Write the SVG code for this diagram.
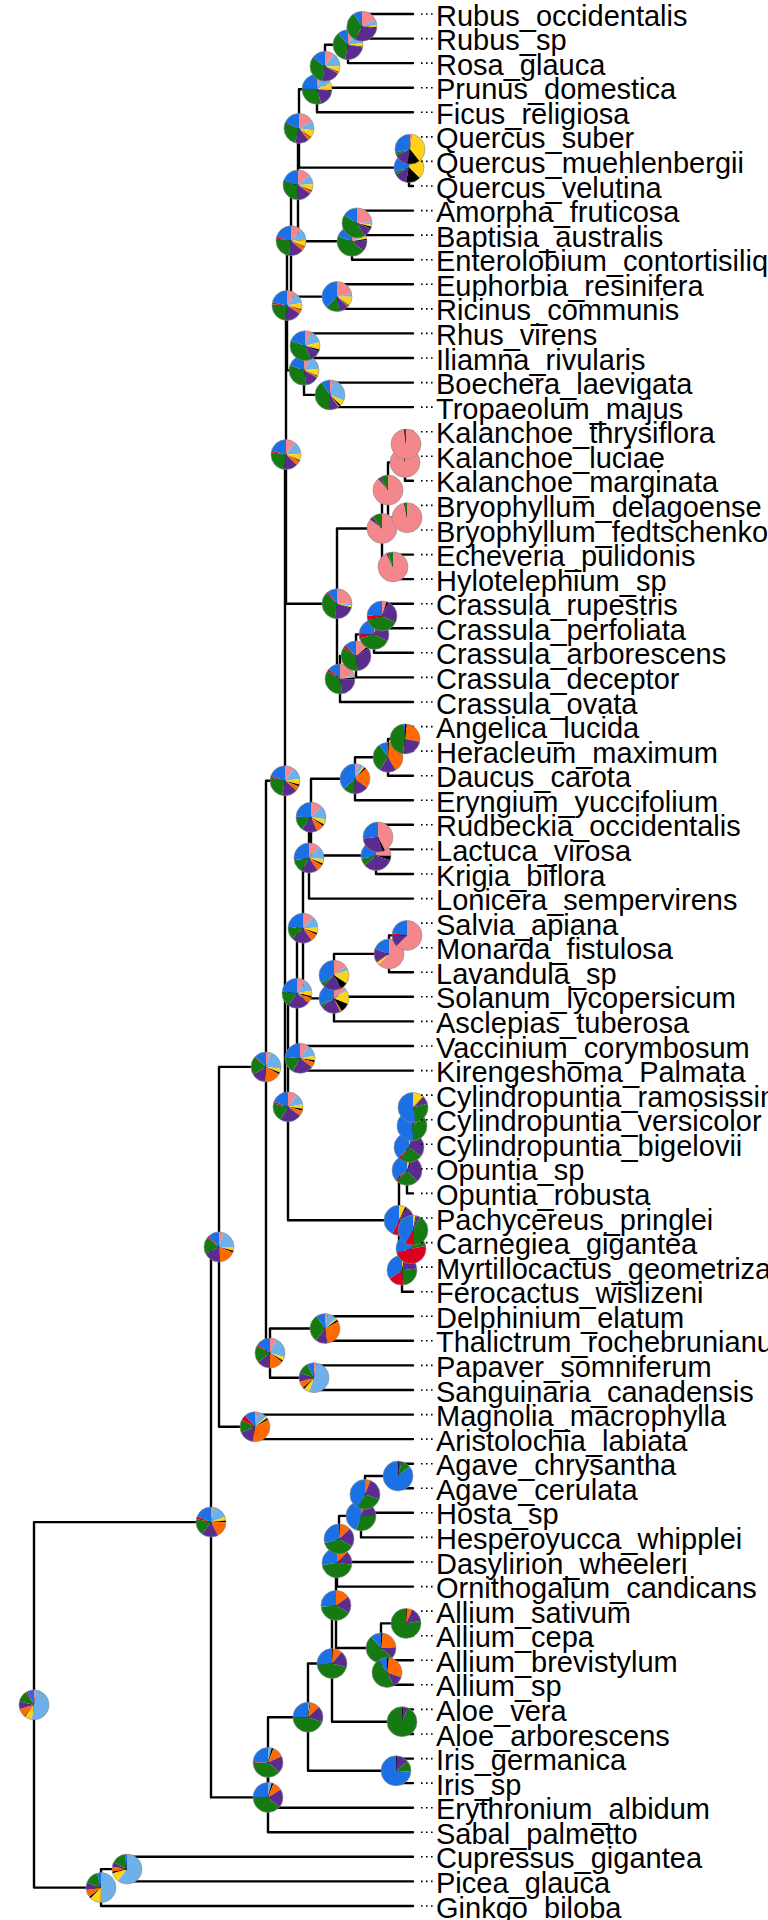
<svg xmlns="http://www.w3.org/2000/svg" width="768" height="1920" viewBox="0 0 768 1920">
<style>
.e path{fill:none;stroke:#000;stroke-width:2.4;stroke-linecap:round}
.pie circle{fill:none;r:15.9155px;stroke-width:31.831px}
.pie .o{r:31.831px;stroke:#8a8a8a;stroke-width:1.3px}
.P{stroke:#f4878c}.L{stroke:#6eb1ea}.Y{stroke:#ffd21a}.K{stroke:#000}.O{stroke:#ff6900}.U{stroke:#5b2b8f}.G{stroke:#157a12}.R{stroke:#dc0020}.B{stroke:#1b70e6}
.t text{font-family:"Liberation Sans",Arial,Helvetica,sans-serif;font-size:29px;fill:#000}
.t path{stroke:#000;stroke-width:1.6;stroke-dasharray:1.6 3.4;fill:none}
</style>
<rect width="768" height="1920" fill="#fff"/>
<g id="edges" class="e">
<path d="M362 14V38.6M362 14H413M362 38.6H413"/>
<path d="M348 26.3V63.1M348 26.3H362M348 63.1H413"/>
<path d="M325 44.7V87.7M325 44.7H348M325 87.7H413"/>
<path d="M317 66.2V112.3M317 66.2H325M317 112.3H413"/>
<path d="M410 136.9V161.4M410 136.9H413M410 161.4H413"/>
<path d="M409 149.2V186M409 149.2H410M409 186H413"/>
<path d="M299 89.3V167.6M299 89.3H317M299 167.6H409"/>
<path d="M357 210.6V235.1M357 210.6H413M357 235.1H413"/>
<path d="M352 222.9V259.7M352 222.9H357M352 259.7H413"/>
<path d="M298 128.4V241.3M298 128.4H299M298 241.3H352"/>
<path d="M337 284.3V308.9M337 284.3H413M337 308.9H413"/>
<path d="M291 184.9V296.6M291 184.9H298M291 296.6H337"/>
<path d="M305 333.4V358M305 333.4H413M305 358H413"/>
<path d="M330 382.6V407.1M330 382.6H413M330 407.1H413"/>
<path d="M304 345.7V394.9M304 345.7H305M304 394.9H330"/>
<path d="M287 240.7V370.3M287 240.7H291M287 370.3H304"/>
<path d="M406 431.7V456.3M406 431.7H413M406 456.3H413"/>
<path d="M405 444V480.8M405 444H406M405 480.8H413"/>
<path d="M407 505.4V530M407 505.4H413M407 530H413"/>
<path d="M388 462.4V517.7M388 462.4H405M388 517.7H407"/>
<path d="M393 554.6V579.1M393 554.6H413M393 579.1H413"/>
<path d="M382 490.1V566.9M382 490.1H388M382 566.9H393"/>
<path d="M382 603.7V628.3M382 603.7H413M382 628.3H413"/>
<path d="M374 616V652.8M374 616H382M374 652.8H413"/>
<path d="M356 634.4V677.4M356 634.4H374M356 677.4H413"/>
<path d="M340 655.9V702M340 655.9H356M340 702H413"/>
<path d="M337 528.5V679M337 528.5H382M337 679H340"/>
<path d="M286 305.5V603.7M286 305.5H287M286 603.7H337"/>
<path d="M405 726.6V751.1M405 726.6H413M405 751.1H413"/>
<path d="M388 738.9V775.7M388 738.9H405M388 775.7H413"/>
<path d="M355 757.3V800.3M355 757.3H388M355 800.3H413"/>
<path d="M378 824.8V849.4M378 824.8H413M378 849.4H413"/>
<path d="M376 837.1V874M376 837.1H378M376 874H413"/>
<path d="M311 778.8V855.5M311 778.8H355M311 855.5H376"/>
<path d="M309 817.2V898.6M309 817.2H311M309 898.6H413"/>
<path d="M407 923.1V947.7M407 923.1H413M407 947.7H413"/>
<path d="M389 935.4V972.3M389 935.4H407M389 972.3H413"/>
<path d="M334 953.9V996.8M334 953.9H389M334 996.8H413"/>
<path d="M334 975.3V1021.4M334 1021.4H413"/>
<path d="M303 857.9V998.4M303 857.9H309M303 998.4H334"/>
<path d="M300 1046V1070.6M300 1046H413M300 1070.6H413"/>
<path d="M297 928.2V1058.3M297 928.2H303M297 1058.3H300"/>
<path d="M413 1095.1V1119.7"/>
<path d="M412 1107.4V1144.3M412 1107.4H413M412 1144.3H413"/>
<path d="M409 1125.9V1168.8M409 1125.9H412M409 1168.8H413"/>
<path d="M407 1147.3V1193.4M407 1147.3H409M407 1193.4H413"/>
<path d="M413 1218V1242.6"/>
<path d="M411 1230.3V1267.1M411 1230.3H413M411 1267.1H413"/>
<path d="M402 1248.7V1291.7M402 1248.7H411M402 1291.7H413"/>
<path d="M399 1170.4V1270.2M399 1170.4H407M399 1270.2H402"/>
<path d="M288 993.2V1220.3M288 993.2H297M288 1220.3H399"/>
<path d="M285 454.6V1106.8M285 454.6H286M285 1106.8H288"/>
<path d="M325 1316.3V1340.8M325 1316.3H413M325 1340.8H413"/>
<path d="M314 1365.4V1390M314 1365.4H413M314 1390H413"/>
<path d="M270 1328.5V1377.7M270 1328.5H325M270 1377.7H314"/>
<path d="M266 780.7V1353.1M266 780.7H285M266 1353.1H270"/>
<path d="M255 1414.6V1439.1M255 1414.6H413M255 1439.1H413"/>
<path d="M219 1066.9V1426.8M219 1066.9H266M219 1426.8H255"/>
<path d="M398 1463.7V1488.3M398 1463.7H413M398 1488.3H413"/>
<path d="M365 1476V1512.8M365 1476H398M365 1512.8H413"/>
<path d="M361 1494.4V1537.4M361 1494.4H365M361 1537.4H413"/>
<path d="M339 1515.9V1562M339 1515.9H361M339 1562H413"/>
<path d="M337 1539V1586.6M337 1539H339M337 1586.6H413"/>
<path d="M406 1611.1V1635.7M406 1611.1H413M406 1635.7H413"/>
<path d="M387 1660.3V1684.8M387 1660.3H413M387 1684.8H413"/>
<path d="M381 1623.4V1672.5M381 1623.4H406M381 1672.5H387"/>
<path d="M336 1562.8V1648M336 1562.8H337M336 1648H381"/>
<path d="M402 1709.4V1734M402 1709.4H413M402 1734H413"/>
<path d="M332 1605.4V1721.7M332 1605.4H336M332 1721.7H402"/>
<path d="M396 1758.6V1783.1M396 1758.6H413M396 1783.1H413"/>
<path d="M308 1663.5V1770.8M308 1663.5H332M308 1770.8H396"/>
<path d="M268 1717.2V1807.7M268 1717.2H308M268 1807.7H413"/>
<path d="M268 1762.4V1832.3M268 1832.3H413"/>
<path d="M211 1246.9V1797.4M211 1246.9H219M211 1797.4H268"/>
<path d="M127 1856.8V1881.4M127 1856.8H413M127 1881.4H413"/>
<path d="M101 1869.1V1906M101 1869.1H127M101 1906H413"/>
<path d="M34 1522.1V1887.6M34 1522.1H211M34 1887.6H101"/>
</g>
<g id="pies">
<g id="n_root" class="pie" transform="translate(34 1704.8) rotate(-90) scale(.4712)"><circle class="P" stroke-dasharray="2 100"/><circle class="L" stroke-dasharray="50 100" stroke-dashoffset="-2"/><circle class="Y" stroke-dasharray="8 100" stroke-dashoffset="-52"/><circle class="K" stroke-dasharray="1 100" stroke-dashoffset="-60"/><circle class="O" stroke-dasharray="9 100" stroke-dashoffset="-61"/><circle class="U" stroke-dasharray="8 100" stroke-dashoffset="-70"/><circle class="G" stroke-dasharray="12 100" stroke-dashoffset="-78"/><circle class="R" stroke-dasharray="2 100" stroke-dashoffset="-90"/><circle class="B" stroke-dasharray="8 100" stroke-dashoffset="-92"/><circle class="o"/></g>
<g id="n_m" class="pie" transform="translate(211 1522.1) rotate(-90) scale(.4712)"><circle class="P" stroke-dasharray="3 100"/><circle class="L" stroke-dasharray="16 100" stroke-dashoffset="-3"/><circle class="Y" stroke-dasharray="4 100" stroke-dashoffset="-19"/><circle class="K" stroke-dasharray="2 100" stroke-dashoffset="-23"/><circle class="O" stroke-dasharray="17 100" stroke-dashoffset="-25"/><circle class="U" stroke-dasharray="18 100" stroke-dashoffset="-42"/><circle class="G" stroke-dasharray="18 100" stroke-dashoffset="-60"/><circle class="R" stroke-dasharray="3 100" stroke-dashoffset="-78"/><circle class="B" stroke-dasharray="19 100" stroke-dashoffset="-81"/><circle class="o"/></g>
<g id="n_n" class="pie" transform="translate(219 1246.9) rotate(-90) scale(.4712)"><circle class="P" stroke-dasharray="5 100"/><circle class="L" stroke-dasharray="20 100" stroke-dashoffset="-5"/><circle class="Y" stroke-dasharray="4 100" stroke-dashoffset="-25"/><circle class="K" stroke-dasharray="2 100" stroke-dashoffset="-29"/><circle class="O" stroke-dasharray="18 100" stroke-dashoffset="-31"/><circle class="U" stroke-dasharray="18 100" stroke-dashoffset="-49"/><circle class="G" stroke-dasharray="18 100" stroke-dashoffset="-67"/><circle class="R" stroke-dasharray="2 100" stroke-dashoffset="-85"/><circle class="B" stroke-dasharray="13 100" stroke-dashoffset="-87"/><circle class="o"/></g>
<g id="n_l" class="pie" transform="translate(266 1066.9) rotate(-90) scale(.4712)"><circle class="P" stroke-dasharray="5 100"/><circle class="L" stroke-dasharray="22 100" stroke-dashoffset="-5"/><circle class="Y" stroke-dasharray="4 100" stroke-dashoffset="-27"/><circle class="K" stroke-dasharray="2 100" stroke-dashoffset="-31"/><circle class="O" stroke-dasharray="18 100" stroke-dashoffset="-33"/><circle class="U" stroke-dasharray="15 100" stroke-dashoffset="-51"/><circle class="G" stroke-dasharray="20 100" stroke-dashoffset="-66"/><circle class="R" stroke-dasharray="1 100" stroke-dashoffset="-86"/><circle class="B" stroke-dasharray="13 100" stroke-dashoffset="-87"/><circle class="o"/></g>
<g id="n_j" class="pie" transform="translate(285 780.7) rotate(-90) scale(.4712)"><circle class="P" stroke-dasharray="10 100"/><circle class="L" stroke-dasharray="13 100" stroke-dashoffset="-10"/><circle class="Y" stroke-dasharray="6 100" stroke-dashoffset="-23"/><circle class="K" stroke-dasharray="2 100" stroke-dashoffset="-29"/><circle class="O" stroke-dasharray="5 100" stroke-dashoffset="-31"/><circle class="U" stroke-dasharray="17 100" stroke-dashoffset="-36"/><circle class="G" stroke-dasharray="25 100" stroke-dashoffset="-53"/><circle class="R" stroke-dasharray="2 100" stroke-dashoffset="-78"/><circle class="B" stroke-dasharray="20 100" stroke-dashoffset="-80"/><circle class="o"/></g>
<g id="n_i" class="pie" transform="translate(286 454.6) rotate(-90) scale(.4712)"><circle class="P" stroke-dasharray="10 100"/><circle class="L" stroke-dasharray="14 100" stroke-dashoffset="-10"/><circle class="Y" stroke-dasharray="7 100" stroke-dashoffset="-24"/><circle class="K" stroke-dasharray="1 100" stroke-dashoffset="-31"/><circle class="O" stroke-dasharray="5 100" stroke-dashoffset="-32"/><circle class="U" stroke-dasharray="15 100" stroke-dashoffset="-37"/><circle class="G" stroke-dasharray="25 100" stroke-dashoffset="-52"/><circle class="R" stroke-dasharray="2 100" stroke-dashoffset="-77"/><circle class="B" stroke-dasharray="21 100" stroke-dashoffset="-79"/><circle class="o"/></g>
<g id="n_h" class="pie" transform="translate(287 305.5) rotate(-90) scale(.4712)"><circle class="P" stroke-dasharray="10 100"/><circle class="L" stroke-dasharray="12 100" stroke-dashoffset="-10"/><circle class="Y" stroke-dasharray="7 100" stroke-dashoffset="-22"/><circle class="K" stroke-dasharray="1 100" stroke-dashoffset="-29"/><circle class="O" stroke-dasharray="4 100" stroke-dashoffset="-30"/><circle class="U" stroke-dasharray="17 100" stroke-dashoffset="-34"/><circle class="G" stroke-dasharray="25 100" stroke-dashoffset="-51"/><circle class="R" stroke-dasharray="2 100" stroke-dashoffset="-76"/><circle class="B" stroke-dasharray="22 100" stroke-dashoffset="-78"/><circle class="o"/></g>
<g id="n_g" class="pie" transform="translate(291 240.7) rotate(-90) scale(.4712)"><circle class="P" stroke-dasharray="12 100"/><circle class="L" stroke-dasharray="12 100" stroke-dashoffset="-12"/><circle class="Y" stroke-dasharray="7 100" stroke-dashoffset="-24"/><circle class="K" stroke-dasharray="1 100" stroke-dashoffset="-31"/><circle class="O" stroke-dasharray="4 100" stroke-dashoffset="-32"/><circle class="U" stroke-dasharray="16 100" stroke-dashoffset="-36"/><circle class="G" stroke-dasharray="25 100" stroke-dashoffset="-52"/><circle class="R" stroke-dasharray="2 100" stroke-dashoffset="-77"/><circle class="B" stroke-dasharray="21 100" stroke-dashoffset="-79"/><circle class="o"/></g>
<g id="n_f" class="pie" transform="translate(298 184.9) rotate(-90) scale(.4712)"><circle class="P" stroke-dasharray="14 100"/><circle class="L" stroke-dasharray="10 100" stroke-dashoffset="-14"/><circle class="Y" stroke-dasharray="7 100" stroke-dashoffset="-24"/><circle class="K" stroke-dasharray="1 100" stroke-dashoffset="-31"/><circle class="O" stroke-dasharray="3 100" stroke-dashoffset="-32"/><circle class="U" stroke-dasharray="16 100" stroke-dashoffset="-35"/><circle class="G" stroke-dasharray="27 100" stroke-dashoffset="-51"/><circle class="K" stroke-dasharray="1 100" stroke-dashoffset="-78"/><circle class="B" stroke-dasharray="21 100" stroke-dashoffset="-79"/><circle class="o"/></g>
<g id="n_e" class="pie" transform="translate(299 128.4) rotate(-90) scale(.4712)"><circle class="P" stroke-dasharray="17 100"/><circle class="L" stroke-dasharray="10 100" stroke-dashoffset="-17"/><circle class="Y" stroke-dasharray="8 100" stroke-dashoffset="-27"/><circle class="K" stroke-dasharray="1 100" stroke-dashoffset="-35"/><circle class="O" stroke-dasharray="3 100" stroke-dashoffset="-36"/><circle class="U" stroke-dasharray="15 100" stroke-dashoffset="-39"/><circle class="G" stroke-dasharray="26 100" stroke-dashoffset="-54"/><circle class="K" stroke-dasharray="1 100" stroke-dashoffset="-80"/><circle class="B" stroke-dasharray="19 100" stroke-dashoffset="-81"/><circle class="o"/></g>
<g id="n_d" class="pie" transform="translate(317 89.3) rotate(-90) scale(.4712)"><circle class="P" stroke-dasharray="5 100"/><circle class="L" stroke-dasharray="13 100" stroke-dashoffset="-5"/><circle class="Y" stroke-dasharray="8 100" stroke-dashoffset="-18"/><circle class="K" stroke-dasharray="1 100" stroke-dashoffset="-26"/><circle class="U" stroke-dasharray="18 100" stroke-dashoffset="-27"/><circle class="G" stroke-dasharray="30 100" stroke-dashoffset="-45"/><circle class="B" stroke-dasharray="25 100" stroke-dashoffset="-75"/><circle class="o"/></g>
<g id="n_c" class="pie" transform="translate(325 66.2) rotate(-90) scale(.4712)"><circle class="P" stroke-dasharray="10 100"/><circle class="L" stroke-dasharray="15 100" stroke-dashoffset="-10"/><circle class="Y" stroke-dasharray="6 100" stroke-dashoffset="-25"/><circle class="K" stroke-dasharray="1 100" stroke-dashoffset="-31"/><circle class="O" stroke-dasharray="1 100" stroke-dashoffset="-32"/><circle class="U" stroke-dasharray="20 100" stroke-dashoffset="-33"/><circle class="G" stroke-dasharray="30 100" stroke-dashoffset="-53"/><circle class="K" stroke-dasharray="1 100" stroke-dashoffset="-83"/><circle class="B" stroke-dasharray="16 100" stroke-dashoffset="-84"/><circle class="o"/></g>
<g id="n_b" class="pie" transform="translate(348 44.7) rotate(-90) scale(.4712)"><circle class="P" stroke-dasharray="8 100"/><circle class="L" stroke-dasharray="15 100" stroke-dashoffset="-8"/><circle class="Y" stroke-dasharray="4 100" stroke-dashoffset="-23"/><circle class="K" stroke-dasharray="1 100" stroke-dashoffset="-27"/><circle class="U" stroke-dasharray="25 100" stroke-dashoffset="-28"/><circle class="G" stroke-dasharray="35 100" stroke-dashoffset="-53"/><circle class="B" stroke-dasharray="12 100" stroke-dashoffset="-88"/><circle class="o"/></g>
<g id="n_a" class="pie" transform="translate(362 26.3) rotate(-90) scale(.4712)"><circle class="P" stroke-dasharray="18 100"/><circle class="L" stroke-dasharray="6 100" stroke-dashoffset="-18"/><circle class="Y" stroke-dasharray="2 100" stroke-dashoffset="-24"/><circle class="K" stroke-dasharray="1 100" stroke-dashoffset="-26"/><circle class="U" stroke-dasharray="30 100" stroke-dashoffset="-27"/><circle class="G" stroke-dasharray="33 100" stroke-dashoffset="-57"/><circle class="B" stroke-dasharray="10 100" stroke-dashoffset="-90"/><circle class="o"/></g>
<g id="n_q2" class="pie" transform="translate(409 167.6) rotate(-90) scale(.4712)"><circle class="P" stroke-dasharray="1 100"/><circle class="Y" stroke-dasharray="36 100" stroke-dashoffset="-1"/><circle class="K" stroke-dasharray="16 100" stroke-dashoffset="-37"/><circle class="U" stroke-dasharray="14 100" stroke-dashoffset="-53"/><circle class="G" stroke-dasharray="3 100" stroke-dashoffset="-67"/><circle class="B" stroke-dasharray="30 100" stroke-dashoffset="-70"/><circle class="o"/></g>
<g id="n_q1" class="pie" transform="translate(410 149.2) rotate(-90) scale(.4712)"><circle class="P" stroke-dasharray="2 100"/><circle class="Y" stroke-dasharray="37 100" stroke-dashoffset="-2"/><circle class="K" stroke-dasharray="14 100" stroke-dashoffset="-39"/><circle class="U" stroke-dasharray="15 100" stroke-dashoffset="-53"/><circle class="G" stroke-dasharray="3 100" stroke-dashoffset="-68"/><circle class="B" stroke-dasharray="29 100" stroke-dashoffset="-71"/><circle class="o"/></g>
<g id="n_lg2" class="pie" transform="translate(352 241.3) rotate(-90) scale(.4712)"><circle class="P" stroke-dasharray="15 100"/><circle class="L" stroke-dasharray="4 100" stroke-dashoffset="-15"/><circle class="Y" stroke-dasharray="3 100" stroke-dashoffset="-19"/><circle class="K" stroke-dasharray="2 100" stroke-dashoffset="-22"/><circle class="U" stroke-dasharray="12 100" stroke-dashoffset="-24"/><circle class="G" stroke-dasharray="44 100" stroke-dashoffset="-36"/><circle class="B" stroke-dasharray="20 100" stroke-dashoffset="-80"/><circle class="o"/></g>
<g id="n_lg1" class="pie" transform="translate(357 222.9) rotate(-90) scale(.4712)"><circle class="P" stroke-dasharray="24 100"/><circle class="L" stroke-dasharray="3 100" stroke-dashoffset="-24"/><circle class="Y" stroke-dasharray="2 100" stroke-dashoffset="-27"/><circle class="K" stroke-dasharray="2 100" stroke-dashoffset="-29"/><circle class="U" stroke-dasharray="10 100" stroke-dashoffset="-31"/><circle class="G" stroke-dasharray="42 100" stroke-dashoffset="-41"/><circle class="B" stroke-dasharray="17 100" stroke-dashoffset="-83"/><circle class="o"/></g>
<g id="n_er" class="pie" transform="translate(337 296.6) rotate(-90) scale(.4712)"><circle class="P" stroke-dasharray="22 100"/><circle class="L" stroke-dasharray="3 100" stroke-dashoffset="-22"/><circle class="Y" stroke-dasharray="10 100" stroke-dashoffset="-25"/><circle class="K" stroke-dasharray="1 100" stroke-dashoffset="-35"/><circle class="O" stroke-dasharray="1 100" stroke-dashoffset="-36"/><circle class="U" stroke-dasharray="10 100" stroke-dashoffset="-37"/><circle class="G" stroke-dasharray="15 100" stroke-dashoffset="-47"/><circle class="B" stroke-dasharray="38 100" stroke-dashoffset="-62"/><circle class="o"/></g>
<g id="n_rh2" class="pie" transform="translate(304 370.3) rotate(-90) scale(.4712)"><circle class="P" stroke-dasharray="8 100"/><circle class="L" stroke-dasharray="15 100" stroke-dashoffset="-8"/><circle class="Y" stroke-dasharray="8 100" stroke-dashoffset="-23"/><circle class="K" stroke-dasharray="1 100" stroke-dashoffset="-31"/><circle class="O" stroke-dasharray="1 100" stroke-dashoffset="-32"/><circle class="U" stroke-dasharray="14 100" stroke-dashoffset="-33"/><circle class="G" stroke-dasharray="33 100" stroke-dashoffset="-47"/><circle class="B" stroke-dasharray="20 100" stroke-dashoffset="-80"/><circle class="o"/></g>
<g id="n_rh1" class="pie" transform="translate(305 345.7) rotate(-90) scale(.4712)"><circle class="P" stroke-dasharray="7 100"/><circle class="L" stroke-dasharray="14 100" stroke-dashoffset="-7"/><circle class="Y" stroke-dasharray="8 100" stroke-dashoffset="-21"/><circle class="K" stroke-dasharray="2 100" stroke-dashoffset="-29"/><circle class="U" stroke-dasharray="12 100" stroke-dashoffset="-31"/><circle class="G" stroke-dasharray="37 100" stroke-dashoffset="-43"/><circle class="B" stroke-dasharray="20 100" stroke-dashoffset="-80"/><circle class="o"/></g>
<g id="n_bt" class="pie" transform="translate(330 394.9) rotate(-90) scale(.4712)"><circle class="P" stroke-dasharray="4 100"/><circle class="L" stroke-dasharray="27 100" stroke-dashoffset="-4"/><circle class="Y" stroke-dasharray="6 100" stroke-dashoffset="-31"/><circle class="K" stroke-dasharray="2 100" stroke-dashoffset="-37"/><circle class="O" stroke-dasharray="1 100" stroke-dashoffset="-39"/><circle class="U" stroke-dasharray="10 100" stroke-dashoffset="-40"/><circle class="G" stroke-dasharray="40 100" stroke-dashoffset="-50"/><circle class="B" stroke-dasharray="10 100" stroke-dashoffset="-90"/><circle class="o"/></g>
<g id="n_sx" class="pie" transform="translate(337 603.7) rotate(-90) scale(.4712)"><circle class="P" stroke-dasharray="24 100"/><circle class="L" stroke-dasharray="3 100" stroke-dashoffset="-24"/><circle class="Y" stroke-dasharray="2 100" stroke-dashoffset="-27"/><circle class="K" stroke-dasharray="1 100" stroke-dashoffset="-29"/><circle class="U" stroke-dasharray="22 100" stroke-dashoffset="-30"/><circle class="G" stroke-dasharray="35 100" stroke-dashoffset="-52"/><circle class="R" stroke-dasharray="2 100" stroke-dashoffset="-87"/><circle class="B" stroke-dasharray="11 100" stroke-dashoffset="-89"/><circle class="o"/></g>
<g id="n_s5" class="pie" transform="translate(382 528.5) rotate(-90) scale(.4712)"><circle class="P" stroke-dasharray="85 100"/><circle class="K" stroke-dasharray="1 100" stroke-dashoffset="-85"/><circle class="U" stroke-dasharray="3 100" stroke-dashoffset="-86"/><circle class="G" stroke-dasharray="11 100" stroke-dashoffset="-89"/><circle class="o"/></g>
<g id="n_s3" class="pie" transform="translate(388 490.1) rotate(-90) scale(.4712)"><circle class="P" stroke-dasharray="88 100"/><circle class="K" stroke-dasharray="1 100" stroke-dashoffset="-88"/><circle class="U" stroke-dasharray="2 100" stroke-dashoffset="-89"/><circle class="G" stroke-dasharray="9 100" stroke-dashoffset="-91"/><circle class="o"/></g>
<g id="n_s2" class="pie" transform="translate(405 462.4) rotate(-90) scale(.4712)"><circle class="P" stroke-dasharray="96 100"/><circle class="K" stroke-dasharray="1 100" stroke-dashoffset="-96"/><circle class="G" stroke-dasharray="3 100" stroke-dashoffset="-97"/><circle class="o"/></g>
<g id="n_s1" class="pie" transform="translate(406 444) rotate(-90) scale(.4712)"><circle class="P" stroke-dasharray="97 100"/><circle class="K" stroke-dasharray="1 100" stroke-dashoffset="-97"/><circle class="G" stroke-dasharray="2 100" stroke-dashoffset="-98"/><circle class="o"/></g>
<g id="n_s4" class="pie" transform="translate(407 517.7) rotate(-90) scale(.4712)"><circle class="P" stroke-dasharray="96 100"/><circle class="K" stroke-dasharray="1 100" stroke-dashoffset="-96"/><circle class="G" stroke-dasharray="3 100" stroke-dashoffset="-97"/><circle class="o"/></g>
<g id="n_s6" class="pie" transform="translate(393 566.9) rotate(-90) scale(.4712)"><circle class="P" stroke-dasharray="92 100"/><circle class="K" stroke-dasharray="1 100" stroke-dashoffset="-92"/><circle class="U" stroke-dasharray="1 100" stroke-dashoffset="-93"/><circle class="G" stroke-dasharray="6 100" stroke-dashoffset="-94"/><circle class="o"/></g>
<g id="n_c4" class="pie" transform="translate(340 679) rotate(-90) scale(.4712)"><circle class="P" stroke-dasharray="20 100"/><circle class="L" stroke-dasharray="2 100" stroke-dashoffset="-20"/><circle class="Y" stroke-dasharray="1 100" stroke-dashoffset="-22"/><circle class="K" stroke-dasharray="2 100" stroke-dashoffset="-23"/><circle class="U" stroke-dasharray="22 100" stroke-dashoffset="-25"/><circle class="G" stroke-dasharray="36 100" stroke-dashoffset="-47"/><circle class="R" stroke-dasharray="3 100" stroke-dashoffset="-83"/><circle class="B" stroke-dasharray="14 100" stroke-dashoffset="-86"/><circle class="o"/></g>
<g id="n_c3" class="pie" transform="translate(356 655.9) rotate(-90) scale(.4712)"><circle class="P" stroke-dasharray="14 100"/><circle class="K" stroke-dasharray="2 100" stroke-dashoffset="-14"/><circle class="U" stroke-dasharray="32 100" stroke-dashoffset="-16"/><circle class="G" stroke-dasharray="36 100" stroke-dashoffset="-48"/><circle class="R" stroke-dasharray="3 100" stroke-dashoffset="-84"/><circle class="B" stroke-dasharray="13 100" stroke-dashoffset="-87"/><circle class="o"/></g>
<g id="n_c2" class="pie" transform="translate(374 634.4) rotate(-90) scale(.4712)"><circle class="P" stroke-dasharray="5 100"/><circle class="K" stroke-dasharray="2 100" stroke-dashoffset="-5"/><circle class="U" stroke-dasharray="25 100" stroke-dashoffset="-7"/><circle class="G" stroke-dasharray="38 100" stroke-dashoffset="-32"/><circle class="R" stroke-dasharray="5 100" stroke-dashoffset="-70"/><circle class="B" stroke-dasharray="25 100" stroke-dashoffset="-75"/><circle class="o"/></g>
<g id="n_c1" class="pie" transform="translate(382 616) rotate(-90) scale(.4712)"><circle class="P" stroke-dasharray="5 100"/><circle class="K" stroke-dasharray="2 100" stroke-dashoffset="-5"/><circle class="U" stroke-dasharray="25 100" stroke-dashoffset="-7"/><circle class="G" stroke-dasharray="38 100" stroke-dashoffset="-32"/><circle class="R" stroke-dasharray="5 100" stroke-dashoffset="-70"/><circle class="B" stroke-dasharray="25 100" stroke-dashoffset="-75"/><circle class="o"/></g>
<g id="n_k" class="pie" transform="translate(288 1106.8) rotate(-90) scale(.4712)"><circle class="P" stroke-dasharray="10 100"/><circle class="L" stroke-dasharray="12 100" stroke-dashoffset="-10"/><circle class="Y" stroke-dasharray="5 100" stroke-dashoffset="-22"/><circle class="K" stroke-dasharray="2 100" stroke-dashoffset="-27"/><circle class="O" stroke-dasharray="6 100" stroke-dashoffset="-29"/><circle class="U" stroke-dasharray="23 100" stroke-dashoffset="-35"/><circle class="G" stroke-dasharray="20 100" stroke-dashoffset="-58"/><circle class="R" stroke-dasharray="2 100" stroke-dashoffset="-78"/><circle class="B" stroke-dasharray="20 100" stroke-dashoffset="-80"/><circle class="o"/></g>
<g id="n_p5" class="pie" transform="translate(297 993.2) rotate(-90) scale(.4712)"><circle class="P" stroke-dasharray="10 100"/><circle class="L" stroke-dasharray="12 100" stroke-dashoffset="-10"/><circle class="Y" stroke-dasharray="6 100" stroke-dashoffset="-22"/><circle class="K" stroke-dasharray="2 100" stroke-dashoffset="-28"/><circle class="O" stroke-dasharray="6 100" stroke-dashoffset="-30"/><circle class="U" stroke-dasharray="24 100" stroke-dashoffset="-36"/><circle class="G" stroke-dasharray="16 100" stroke-dashoffset="-60"/><circle class="B" stroke-dasharray="24 100" stroke-dashoffset="-76"/><circle class="o"/></g>
<g id="n_p4" class="pie" transform="translate(303 928.2) rotate(-90) scale(.4712)"><circle class="P" stroke-dasharray="12 100"/><circle class="L" stroke-dasharray="12 100" stroke-dashoffset="-12"/><circle class="Y" stroke-dasharray="6 100" stroke-dashoffset="-24"/><circle class="K" stroke-dasharray="2 100" stroke-dashoffset="-30"/><circle class="O" stroke-dasharray="8 100" stroke-dashoffset="-32"/><circle class="U" stroke-dasharray="22 100" stroke-dashoffset="-40"/><circle class="G" stroke-dasharray="14 100" stroke-dashoffset="-62"/><circle class="B" stroke-dasharray="24 100" stroke-dashoffset="-76"/><circle class="o"/></g>
<g id="n_a5" class="pie" transform="translate(309 857.9) rotate(-90) scale(.4712)"><circle class="P" stroke-dasharray="12 100"/><circle class="L" stroke-dasharray="14 100" stroke-dashoffset="-12"/><circle class="Y" stroke-dasharray="5 100" stroke-dashoffset="-26"/><circle class="K" stroke-dasharray="2 100" stroke-dashoffset="-31"/><circle class="O" stroke-dasharray="7 100" stroke-dashoffset="-33"/><circle class="U" stroke-dasharray="18 100" stroke-dashoffset="-40"/><circle class="G" stroke-dasharray="14 100" stroke-dashoffset="-58"/><circle class="B" stroke-dasharray="28 100" stroke-dashoffset="-72"/><circle class="o"/></g>
<g id="n_a4" class="pie" transform="translate(311 817.2) rotate(-90) scale(.4712)"><circle class="P" stroke-dasharray="12 100"/><circle class="L" stroke-dasharray="15 100" stroke-dashoffset="-12"/><circle class="Y" stroke-dasharray="6 100" stroke-dashoffset="-27"/><circle class="K" stroke-dasharray="2 100" stroke-dashoffset="-33"/><circle class="O" stroke-dasharray="8 100" stroke-dashoffset="-35"/><circle class="U" stroke-dasharray="17 100" stroke-dashoffset="-43"/><circle class="G" stroke-dasharray="15 100" stroke-dashoffset="-60"/><circle class="B" stroke-dasharray="25 100" stroke-dashoffset="-75"/><circle class="o"/></g>
<g id="n_a3" class="pie" transform="translate(355 778.8) rotate(-90) scale(.4712)"><circle class="P" stroke-dasharray="4 100"/><circle class="L" stroke-dasharray="5 100" stroke-dashoffset="-4"/><circle class="Y" stroke-dasharray="2 100" stroke-dashoffset="-9"/><circle class="K" stroke-dasharray="2 100" stroke-dashoffset="-11"/><circle class="O" stroke-dasharray="22 100" stroke-dashoffset="-13"/><circle class="U" stroke-dasharray="16 100" stroke-dashoffset="-35"/><circle class="G" stroke-dasharray="12 100" stroke-dashoffset="-51"/><circle class="B" stroke-dasharray="37 100" stroke-dashoffset="-63"/><circle class="o"/></g>
<g id="n_a2" class="pie" transform="translate(388 757.3) rotate(-90) scale(.4712)"><circle class="K" stroke-dasharray="1 100"/><circle class="O" stroke-dasharray="40 100" stroke-dashoffset="-1"/><circle class="U" stroke-dasharray="18 100" stroke-dashoffset="-41"/><circle class="G" stroke-dasharray="31 100" stroke-dashoffset="-59"/><circle class="B" stroke-dasharray="10 100" stroke-dashoffset="-90"/><circle class="o"/></g>
<g id="n_a1" class="pie" transform="translate(405 738.9) rotate(-90) scale(.4712)"><circle class="K" stroke-dasharray="2 100"/><circle class="O" stroke-dasharray="26 100" stroke-dashoffset="-2"/><circle class="U" stroke-dasharray="24 100" stroke-dashoffset="-28"/><circle class="G" stroke-dasharray="46 100" stroke-dashoffset="-52"/><circle class="B" stroke-dasharray="2 100" stroke-dashoffset="-98"/><circle class="o"/></g>
<g id="n_as2" class="pie" transform="translate(376 855.5) rotate(-90) scale(.4712)"><circle class="P" stroke-dasharray="25 100"/><circle class="K" stroke-dasharray="5 100" stroke-dashoffset="-25"/><circle class="U" stroke-dasharray="33 100" stroke-dashoffset="-30"/><circle class="G" stroke-dasharray="8 100" stroke-dashoffset="-63"/><circle class="B" stroke-dasharray="29 100" stroke-dashoffset="-71"/><circle class="o"/></g>
<g id="n_as1" class="pie" transform="translate(378 837.1) rotate(-90) scale(.4712)"><circle class="P" stroke-dasharray="42 100"/><circle class="K" stroke-dasharray="3 100" stroke-dashoffset="-42"/><circle class="U" stroke-dasharray="28 100" stroke-dashoffset="-45"/><circle class="B" stroke-dasharray="27 100" stroke-dashoffset="-73"/><circle class="o"/></g>
<g id="n_l4" class="pie" transform="translate(334 998.4) rotate(-90) scale(.4712)"><circle class="P" stroke-dasharray="14 100"/><circle class="L" stroke-dasharray="2 100" stroke-dashoffset="-14"/><circle class="Y" stroke-dasharray="15 100" stroke-dashoffset="-16"/><circle class="K" stroke-dasharray="10 100" stroke-dashoffset="-31"/><circle class="O" stroke-dasharray="2 100" stroke-dashoffset="-41"/><circle class="U" stroke-dasharray="22 100" stroke-dashoffset="-43"/><circle class="G" stroke-dasharray="3 100" stroke-dashoffset="-65"/><circle class="B" stroke-dasharray="32 100" stroke-dashoffset="-68"/><circle class="o"/></g>
<g id="n_l3" class="pie" transform="translate(334 975.3) rotate(-90) scale(.4712)"><circle class="P" stroke-dasharray="15 100"/><circle class="L" stroke-dasharray="4 100" stroke-dashoffset="-15"/><circle class="Y" stroke-dasharray="15 100" stroke-dashoffset="-19"/><circle class="K" stroke-dasharray="8 100" stroke-dashoffset="-34"/><circle class="U" stroke-dasharray="20 100" stroke-dashoffset="-42"/><circle class="G" stroke-dasharray="4 100" stroke-dashoffset="-62"/><circle class="B" stroke-dasharray="34 100" stroke-dashoffset="-66"/><circle class="o"/></g>
<g id="n_l2" class="pie" transform="translate(389 953.9) rotate(-90) scale(.4712)"><circle class="P" stroke-dasharray="62 100"/><circle class="Y" stroke-dasharray="3 100" stroke-dashoffset="-62"/><circle class="K" stroke-dasharray="1 100" stroke-dashoffset="-65"/><circle class="U" stroke-dasharray="14 100" stroke-dashoffset="-66"/><circle class="B" stroke-dasharray="20 100" stroke-dashoffset="-80"/><circle class="o"/></g>
<g id="n_l1" class="pie" transform="translate(407 935.4) rotate(-90) scale(.4712)"><circle class="P" stroke-dasharray="62 100"/><circle class="U" stroke-dasharray="13 100" stroke-dashoffset="-62"/><circle class="R" stroke-dasharray="2 100" stroke-dashoffset="-75"/><circle class="B" stroke-dasharray="23 100" stroke-dashoffset="-77"/><circle class="o"/></g>
<g id="n_er2" class="pie" transform="translate(300 1058.3) rotate(-90) scale(.4712)"><circle class="P" stroke-dasharray="10 100"/><circle class="L" stroke-dasharray="12 100" stroke-dashoffset="-10"/><circle class="Y" stroke-dasharray="5 100" stroke-dashoffset="-22"/><circle class="K" stroke-dasharray="2 100" stroke-dashoffset="-27"/><circle class="O" stroke-dasharray="6 100" stroke-dashoffset="-29"/><circle class="U" stroke-dasharray="23 100" stroke-dashoffset="-35"/><circle class="G" stroke-dasharray="18 100" stroke-dashoffset="-58"/><circle class="B" stroke-dasharray="24 100" stroke-dashoffset="-76"/><circle class="o"/></g>
<g id="n_cac" class="pie" transform="translate(399 1220.3) rotate(-90) scale(.4712)"><circle class="Y" stroke-dasharray="7 100"/><circle class="K" stroke-dasharray="2 100" stroke-dashoffset="-7"/><circle class="U" stroke-dasharray="10 100" stroke-dashoffset="-9"/><circle class="G" stroke-dasharray="20 100" stroke-dashoffset="-19"/><circle class="R" stroke-dasharray="18 100" stroke-dashoffset="-39"/><circle class="B" stroke-dasharray="43 100" stroke-dashoffset="-57"/><circle class="o"/></g>
<g id="n_k4" class="pie" transform="translate(407 1170.4) rotate(-90) scale(.4712)"><circle class="Y" stroke-dasharray="5 100"/><circle class="K" stroke-dasharray="1 100" stroke-dashoffset="-5"/><circle class="U" stroke-dasharray="32 100" stroke-dashoffset="-6"/><circle class="G" stroke-dasharray="24 100" stroke-dashoffset="-38"/><circle class="R" stroke-dasharray="2 100" stroke-dashoffset="-62"/><circle class="B" stroke-dasharray="36 100" stroke-dashoffset="-64"/><circle class="o"/></g>
<g id="n_k3" class="pie" transform="translate(409 1147.3) rotate(-90) scale(.4712)"><circle class="Y" stroke-dasharray="4 100"/><circle class="K" stroke-dasharray="1 100" stroke-dashoffset="-4"/><circle class="U" stroke-dasharray="30 100" stroke-dashoffset="-5"/><circle class="G" stroke-dasharray="25 100" stroke-dashoffset="-35"/><circle class="R" stroke-dasharray="2 100" stroke-dashoffset="-60"/><circle class="B" stroke-dasharray="38 100" stroke-dashoffset="-62"/><circle class="o"/></g>
<g id="n_k2" class="pie" transform="translate(412 1125.9) rotate(-90) scale(.4712)"><circle class="Y" stroke-dasharray="3 100"/><circle class="K" stroke-dasharray="1 100" stroke-dashoffset="-3"/><circle class="U" stroke-dasharray="10 100" stroke-dashoffset="-4"/><circle class="G" stroke-dasharray="34 100" stroke-dashoffset="-14"/><circle class="B" stroke-dasharray="52 100" stroke-dashoffset="-48"/><circle class="o"/></g>
<g id="n_k1" class="pie" transform="translate(413 1107.4) rotate(-90) scale(.4712)"><circle class="Y" stroke-dasharray="12 100"/><circle class="K" stroke-dasharray="1 100" stroke-dashoffset="-12"/><circle class="U" stroke-dasharray="8 100" stroke-dashoffset="-13"/><circle class="G" stroke-dasharray="26 100" stroke-dashoffset="-21"/><circle class="B" stroke-dasharray="53 100" stroke-dashoffset="-47"/><circle class="o"/></g>
<g id="n_k7" class="pie" transform="translate(402 1270.2) rotate(-90) scale(.4712)"><circle class="Y" stroke-dasharray="3 100"/><circle class="K" stroke-dasharray="2 100" stroke-dashoffset="-3"/><circle class="U" stroke-dasharray="18 100" stroke-dashoffset="-5"/><circle class="G" stroke-dasharray="25 100" stroke-dashoffset="-23"/><circle class="R" stroke-dasharray="17 100" stroke-dashoffset="-48"/><circle class="B" stroke-dasharray="35 100" stroke-dashoffset="-65"/><circle class="o"/></g>
<g id="n_k6" class="pie" transform="translate(411 1248.7) rotate(-90) scale(.4712)"><circle class="G" stroke-dasharray="22 100"/><circle class="R" stroke-dasharray="48 100" stroke-dashoffset="-22"/><circle class="B" stroke-dasharray="30 100" stroke-dashoffset="-70"/><circle class="o"/></g>
<g id="n_k5" class="pie" transform="translate(413 1230.3) rotate(-90) scale(.4712)"><circle class="Y" stroke-dasharray="3 100"/><circle class="K" stroke-dasharray="1 100" stroke-dashoffset="-3"/><circle class="U" stroke-dasharray="4 100" stroke-dashoffset="-4"/><circle class="G" stroke-dasharray="40 100" stroke-dashoffset="-8"/><circle class="R" stroke-dasharray="10 100" stroke-dashoffset="-48"/><circle class="B" stroke-dasharray="42 100" stroke-dashoffset="-58"/><circle class="o"/></g>
<g id="n_rn" class="pie" transform="translate(270 1353.1) rotate(-90) scale(.4712)"><circle class="P" stroke-dasharray="7 100"/><circle class="L" stroke-dasharray="22 100" stroke-dashoffset="-7"/><circle class="Y" stroke-dasharray="4 100" stroke-dashoffset="-29"/><circle class="K" stroke-dasharray="2 100" stroke-dashoffset="-33"/><circle class="O" stroke-dasharray="15 100" stroke-dashoffset="-35"/><circle class="U" stroke-dasharray="14 100" stroke-dashoffset="-50"/><circle class="G" stroke-dasharray="18 100" stroke-dashoffset="-64"/><circle class="R" stroke-dasharray="2 100" stroke-dashoffset="-82"/><circle class="B" stroke-dasharray="16 100" stroke-dashoffset="-84"/><circle class="o"/></g>
<g id="n_rn1" class="pie" transform="translate(325 1328.5) rotate(-90) scale(.4712)"><circle class="P" stroke-dasharray="3 100"/><circle class="L" stroke-dasharray="10 100" stroke-dashoffset="-3"/><circle class="Y" stroke-dasharray="2 100" stroke-dashoffset="-13"/><circle class="K" stroke-dasharray="2 100" stroke-dashoffset="-15"/><circle class="O" stroke-dasharray="30 100" stroke-dashoffset="-17"/><circle class="U" stroke-dasharray="13 100" stroke-dashoffset="-47"/><circle class="G" stroke-dasharray="30 100" stroke-dashoffset="-60"/><circle class="B" stroke-dasharray="10 100" stroke-dashoffset="-90"/><circle class="o"/></g>
<g id="n_rn2" class="pie" transform="translate(314 1377.7) rotate(-90) scale(.4712)"><circle class="P" stroke-dasharray="3 100"/><circle class="L" stroke-dasharray="52 100" stroke-dashoffset="-3"/><circle class="Y" stroke-dasharray="6 100" stroke-dashoffset="-55"/><circle class="K" stroke-dasharray="2 100" stroke-dashoffset="-61"/><circle class="O" stroke-dasharray="7 100" stroke-dashoffset="-63"/><circle class="U" stroke-dasharray="10 100" stroke-dashoffset="-70"/><circle class="G" stroke-dasharray="12 100" stroke-dashoffset="-80"/><circle class="B" stroke-dasharray="8 100" stroke-dashoffset="-92"/><circle class="o"/></g>
<g id="n_mg" class="pie" transform="translate(255 1426.8) rotate(-90) scale(.4712)"><circle class="P" stroke-dasharray="3 100"/><circle class="L" stroke-dasharray="10 100" stroke-dashoffset="-3"/><circle class="Y" stroke-dasharray="2 100" stroke-dashoffset="-13"/><circle class="K" stroke-dasharray="2 100" stroke-dashoffset="-15"/><circle class="O" stroke-dasharray="35 100" stroke-dashoffset="-17"/><circle class="U" stroke-dasharray="16 100" stroke-dashoffset="-52"/><circle class="G" stroke-dasharray="14 100" stroke-dashoffset="-68"/><circle class="R" stroke-dasharray="6 100" stroke-dashoffset="-82"/><circle class="B" stroke-dasharray="12 100" stroke-dashoffset="-88"/><circle class="o"/></g>
<g id="n_m10" class="pie" transform="translate(268 1797.4) rotate(-90) scale(.4712)"><circle class="L" stroke-dasharray="4 100"/><circle class="K" stroke-dasharray="2 100" stroke-dashoffset="-4"/><circle class="O" stroke-dasharray="10 100" stroke-dashoffset="-6"/><circle class="U" stroke-dasharray="20 100" stroke-dashoffset="-16"/><circle class="G" stroke-dasharray="38 100" stroke-dashoffset="-36"/><circle class="B" stroke-dasharray="26 100" stroke-dashoffset="-74"/><circle class="o"/></g>
<g id="n_m9" class="pie" transform="translate(268 1762.4) rotate(-90) scale(.4712)"><circle class="L" stroke-dasharray="4 100"/><circle class="K" stroke-dasharray="2 100" stroke-dashoffset="-4"/><circle class="O" stroke-dasharray="12 100" stroke-dashoffset="-6"/><circle class="U" stroke-dasharray="18 100" stroke-dashoffset="-18"/><circle class="G" stroke-dasharray="38 100" stroke-dashoffset="-36"/><circle class="R" stroke-dasharray="1 100" stroke-dashoffset="-74"/><circle class="B" stroke-dasharray="25 100" stroke-dashoffset="-75"/><circle class="o"/></g>
<g id="n_m8" class="pie" transform="translate(308 1717.2) rotate(-90) scale(.4712)"><circle class="L" stroke-dasharray="2 100"/><circle class="K" stroke-dasharray="1 100" stroke-dashoffset="-2"/><circle class="O" stroke-dasharray="10 100" stroke-dashoffset="-3"/><circle class="U" stroke-dasharray="17 100" stroke-dashoffset="-13"/><circle class="G" stroke-dasharray="44 100" stroke-dashoffset="-30"/><circle class="B" stroke-dasharray="26 100" stroke-dashoffset="-74"/><circle class="o"/></g>
<g id="n_m7" class="pie" transform="translate(332 1663.5) rotate(-90) scale(.4712)"><circle class="K" stroke-dasharray="1 100"/><circle class="O" stroke-dasharray="10 100" stroke-dashoffset="-1"/><circle class="U" stroke-dasharray="18 100" stroke-dashoffset="-11"/><circle class="G" stroke-dasharray="44 100" stroke-dashoffset="-29"/><circle class="B" stroke-dasharray="27 100" stroke-dashoffset="-73"/><circle class="o"/></g>
<g id="n_m6" class="pie" transform="translate(336 1605.4) rotate(-90) scale(.4712)"><circle class="O" stroke-dasharray="15 100"/><circle class="U" stroke-dasharray="18 100" stroke-dashoffset="-15"/><circle class="G" stroke-dasharray="40 100" stroke-dashoffset="-33"/><circle class="B" stroke-dasharray="27 100" stroke-dashoffset="-73"/><circle class="o"/></g>
<g id="n_m5" class="pie" transform="translate(337 1562.8) rotate(-90) scale(.4712)"><circle class="O" stroke-dasharray="12 100"/><circle class="U" stroke-dasharray="15 100" stroke-dashoffset="-12"/><circle class="G" stroke-dasharray="45 100" stroke-dashoffset="-27"/><circle class="B" stroke-dasharray="28 100" stroke-dashoffset="-72"/><circle class="o"/></g>
<g id="n_m4" class="pie" transform="translate(339 1539) rotate(-90) scale(.4712)"><circle class="K" stroke-dasharray="1 100"/><circle class="O" stroke-dasharray="12 100" stroke-dashoffset="-1"/><circle class="U" stroke-dasharray="20 100" stroke-dashoffset="-13"/><circle class="G" stroke-dasharray="37 100" stroke-dashoffset="-33"/><circle class="B" stroke-dasharray="30 100" stroke-dashoffset="-70"/><circle class="o"/></g>
<g id="n_m3" class="pie" transform="translate(361 1515.9) rotate(-90) scale(.4712)"><circle class="O" stroke-dasharray="5 100"/><circle class="U" stroke-dasharray="20 100" stroke-dashoffset="-5"/><circle class="G" stroke-dasharray="30 100" stroke-dashoffset="-25"/><circle class="B" stroke-dasharray="45 100" stroke-dashoffset="-55"/><circle class="o"/></g>
<g id="n_m2" class="pie" transform="translate(365 1494.4) rotate(-90) scale(.4712)"><circle class="O" stroke-dasharray="6 100"/><circle class="U" stroke-dasharray="24 100" stroke-dashoffset="-6"/><circle class="G" stroke-dasharray="28 100" stroke-dashoffset="-30"/><circle class="B" stroke-dasharray="42 100" stroke-dashoffset="-58"/><circle class="o"/></g>
<g id="n_m1" class="pie" transform="translate(398 1476) rotate(-90) scale(.4712)"><circle class="K" stroke-dasharray="1 100"/><circle class="U" stroke-dasharray="3 100" stroke-dashoffset="-1"/><circle class="G" stroke-dasharray="10 100" stroke-dashoffset="-4"/><circle class="B" stroke-dasharray="86 100" stroke-dashoffset="-14"/><circle class="o"/></g>
<g id="n_al2" class="pie" transform="translate(381 1648) rotate(-90) scale(.4712)"><circle class="K" stroke-dasharray="2 100"/><circle class="O" stroke-dasharray="22 100" stroke-dashoffset="-2"/><circle class="U" stroke-dasharray="12 100" stroke-dashoffset="-24"/><circle class="G" stroke-dasharray="52 100" stroke-dashoffset="-36"/><circle class="B" stroke-dasharray="12 100" stroke-dashoffset="-88"/><circle class="o"/></g>
<g id="n_al1" class="pie" transform="translate(406 1623.4) rotate(-90) scale(.4712)"><circle class="K" stroke-dasharray="1 100"/><circle class="O" stroke-dasharray="6 100" stroke-dashoffset="-1"/><circle class="U" stroke-dasharray="15 100" stroke-dashoffset="-7"/><circle class="G" stroke-dasharray="78 100" stroke-dashoffset="-22"/><circle class="o"/></g>
<g id="n_al3" class="pie" transform="translate(387 1672.5) rotate(-90) scale(.4712)"><circle class="K" stroke-dasharray="2 100"/><circle class="O" stroke-dasharray="28 100" stroke-dashoffset="-2"/><circle class="U" stroke-dasharray="12 100" stroke-dashoffset="-30"/><circle class="G" stroke-dasharray="48 100" stroke-dashoffset="-42"/><circle class="B" stroke-dasharray="10 100" stroke-dashoffset="-90"/><circle class="o"/></g>
<g id="n_alo" class="pie" transform="translate(402 1721.7) rotate(-90) scale(.4712)"><circle class="K" stroke-dasharray="1 100"/><circle class="U" stroke-dasharray="5 100" stroke-dashoffset="-1"/><circle class="G" stroke-dasharray="94 100" stroke-dashoffset="-6"/><circle class="o"/></g>
<g id="n_ir" class="pie" transform="translate(396 1770.8) rotate(-90) scale(.4712)"><circle class="K" stroke-dasharray="1 100"/><circle class="U" stroke-dasharray="13 100" stroke-dashoffset="-1"/><circle class="G" stroke-dasharray="12 100" stroke-dashoffset="-14"/><circle class="B" stroke-dasharray="74 100" stroke-dashoffset="-26"/><circle class="o"/></g>
<g id="n_gy" class="pie" transform="translate(101 1887.6) rotate(-90) scale(.4712)"><circle class="L" stroke-dasharray="50 100"/><circle class="Y" stroke-dasharray="12 100" stroke-dashoffset="-50"/><circle class="K" stroke-dasharray="2 100" stroke-dashoffset="-62"/><circle class="O" stroke-dasharray="8 100" stroke-dashoffset="-64"/><circle class="U" stroke-dasharray="8 100" stroke-dashoffset="-72"/><circle class="G" stroke-dasharray="15 100" stroke-dashoffset="-80"/><circle class="B" stroke-dasharray="5 100" stroke-dashoffset="-95"/><circle class="o"/></g>
<g id="n_gy1" class="pie" transform="translate(127 1869.1) rotate(-90) scale(.4712)"><circle class="L" stroke-dasharray="60 100"/><circle class="Y" stroke-dasharray="10 100" stroke-dashoffset="-60"/><circle class="K" stroke-dasharray="2 100" stroke-dashoffset="-70"/><circle class="O" stroke-dasharray="5 100" stroke-dashoffset="-72"/><circle class="U" stroke-dasharray="5 100" stroke-dashoffset="-77"/><circle class="G" stroke-dasharray="15 100" stroke-dashoffset="-82"/><circle class="B" stroke-dasharray="3 100" stroke-dashoffset="-97"/><circle class="o"/></g>
</g>
<g id="tips" class="t">
<g id="t1"><path d="M421 14H434"/><text x="436" y="25.5">Rubus_occidentalis</text></g>
<g id="t2"><path d="M421 38.6H434"/><text x="436" y="50.1">Rubus_sp</text></g>
<g id="t3"><path d="M421 63.1H434"/><text x="436" y="74.6">Rosa_glauca</text></g>
<g id="t4"><path d="M421 87.7H434"/><text x="436" y="99.2">Prunus_domestica</text></g>
<g id="t5"><path d="M421 112.3H434"/><text x="436" y="123.8">Ficus_religiosa</text></g>
<g id="t6"><path d="M421 136.9H434"/><text x="436" y="148.4">Quercus_suber</text></g>
<g id="t7"><path d="M421 161.4H434"/><text x="436" y="172.9">Quercus_muehlenbergii</text></g>
<g id="t8"><path d="M421 186H434"/><text x="436" y="197.5">Quercus_velutina</text></g>
<g id="t9"><path d="M421 210.6H434"/><text x="436" y="222.1">Amorpha_fruticosa</text></g>
<g id="t10"><path d="M421 235.1H434"/><text x="436" y="246.6">Baptisia_australis</text></g>
<g id="t11"><path d="M421 259.7H434"/><text x="436" y="271.2">Enterolobium_contortisiliquum</text></g>
<g id="t12"><path d="M421 284.3H434"/><text x="436" y="295.8">Euphorbia_resinifera</text></g>
<g id="t13"><path d="M421 308.9H434"/><text x="436" y="320.4">Ricinus_communis</text></g>
<g id="t14"><path d="M421 333.4H434"/><text x="436" y="344.9">Rhus_virens</text></g>
<g id="t15"><path d="M421 358H434"/><text x="436" y="369.5">Iliamna_rivularis</text></g>
<g id="t16"><path d="M421 382.6H434"/><text x="436" y="394.1">Boechera_laevigata</text></g>
<g id="t17"><path d="M421 407.1H434"/><text x="436" y="418.6">Tropaeolum_majus</text></g>
<g id="t18"><path d="M421 431.7H434"/><text x="436" y="443.2">Kalanchoe_thrysiflora</text></g>
<g id="t19"><path d="M421 456.3H434"/><text x="436" y="467.8">Kalanchoe_luciae</text></g>
<g id="t20"><path d="M421 480.8H434"/><text x="436" y="492.3">Kalanchoe_marginata</text></g>
<g id="t21"><path d="M421 505.4H434"/><text x="436" y="516.9">Bryophyllum_delagoense</text></g>
<g id="t22"><path d="M421 530H434"/><text x="436" y="541.5">Bryophyllum_fedtschenkoi</text></g>
<g id="t23"><path d="M421 554.6H434"/><text x="436" y="566.1">Echeveria_pulidonis</text></g>
<g id="t24"><path d="M421 579.1H434"/><text x="436" y="590.6">Hylotelephium_sp</text></g>
<g id="t25"><path d="M421 603.7H434"/><text x="436" y="615.2">Crassula_rupestris</text></g>
<g id="t26"><path d="M421 628.3H434"/><text x="436" y="639.8">Crassula_perfoliata</text></g>
<g id="t27"><path d="M421 652.8H434"/><text x="436" y="664.3">Crassula_arborescens</text></g>
<g id="t28"><path d="M421 677.4H434"/><text x="436" y="688.9">Crassula_deceptor</text></g>
<g id="t29"><path d="M421 702H434"/><text x="436" y="713.5">Crassula_ovata</text></g>
<g id="t30"><path d="M421 726.6H434"/><text x="436" y="738.1">Angelica_lucida</text></g>
<g id="t31"><path d="M421 751.1H434"/><text x="436" y="762.6">Heracleum_maximum</text></g>
<g id="t32"><path d="M421 775.7H434"/><text x="436" y="787.2">Daucus_carota</text></g>
<g id="t33"><path d="M421 800.3H434"/><text x="436" y="811.8">Eryngium_yuccifolium</text></g>
<g id="t34"><path d="M421 824.8H434"/><text x="436" y="836.3">Rudbeckia_occidentalis</text></g>
<g id="t35"><path d="M421 849.4H434"/><text x="436" y="860.9">Lactuca_virosa</text></g>
<g id="t36"><path d="M421 874H434"/><text x="436" y="885.5">Krigia_biflora</text></g>
<g id="t37"><path d="M421 898.6H434"/><text x="436" y="910.1">Lonicera_sempervirens</text></g>
<g id="t38"><path d="M421 923.1H434"/><text x="436" y="934.6">Salvia_apiana</text></g>
<g id="t39"><path d="M421 947.7H434"/><text x="436" y="959.2">Monarda_fistulosa</text></g>
<g id="t40"><path d="M421 972.3H434"/><text x="436" y="983.8">Lavandula_sp</text></g>
<g id="t41"><path d="M421 996.8H434"/><text x="436" y="1008.3">Solanum_lycopersicum</text></g>
<g id="t42"><path d="M421 1021.4H434"/><text x="436" y="1032.9">Asclepias_tuberosa</text></g>
<g id="t43"><path d="M421 1046H434"/><text x="436" y="1057.5">Vaccinium_corymbosum</text></g>
<g id="t44"><path d="M421 1070.6H434"/><text x="436" y="1082.1">Kirengeshoma_Palmata</text></g>
<g id="t45"><path d="M421 1095.1H434"/><text x="436" y="1106.6">Cylindropuntia_ramosissima</text></g>
<g id="t46"><path d="M421 1119.7H434"/><text x="436" y="1131.2">Cylindropuntia_versicolor</text></g>
<g id="t47"><path d="M421 1144.3H434"/><text x="436" y="1155.8">Cylindropuntia_bigelovii</text></g>
<g id="t48"><path d="M421 1168.8H434"/><text x="436" y="1180.3">Opuntia_sp</text></g>
<g id="t49"><path d="M421 1193.4H434"/><text x="436" y="1204.9">Opuntia_robusta</text></g>
<g id="t50"><path d="M421 1218H434"/><text x="436" y="1229.5">Pachycereus_pringlei</text></g>
<g id="t51"><path d="M421 1242.6H434"/><text x="436" y="1254.1">Carnegiea_gigantea</text></g>
<g id="t52"><path d="M421 1267.1H434"/><text x="436" y="1278.6">Myrtillocactus_geometrizans</text></g>
<g id="t53"><path d="M421 1291.7H434"/><text x="436" y="1303.2">Ferocactus_wislizeni</text></g>
<g id="t54"><path d="M421 1316.3H434"/><text x="436" y="1327.8">Delphinium_elatum</text></g>
<g id="t55"><path d="M421 1340.8H434"/><text x="436" y="1352.3">Thalictrum_rochebrunianum</text></g>
<g id="t56"><path d="M421 1365.4H434"/><text x="436" y="1376.9">Papaver_somniferum</text></g>
<g id="t57"><path d="M421 1390H434"/><text x="436" y="1401.5">Sanguinaria_canadensis</text></g>
<g id="t58"><path d="M421 1414.6H434"/><text x="436" y="1426.1">Magnolia_macrophylla</text></g>
<g id="t59"><path d="M421 1439.1H434"/><text x="436" y="1450.6">Aristolochia_labiata</text></g>
<g id="t60"><path d="M421 1463.7H434"/><text x="436" y="1475.2">Agave_chrysantha</text></g>
<g id="t61"><path d="M421 1488.3H434"/><text x="436" y="1499.8">Agave_cerulata</text></g>
<g id="t62"><path d="M421 1512.8H434"/><text x="436" y="1524.3">Hosta_sp</text></g>
<g id="t63"><path d="M421 1537.4H434"/><text x="436" y="1548.9">Hesperoyucca_whipplei</text></g>
<g id="t64"><path d="M421 1562H434"/><text x="436" y="1573.5">Dasylirion_wheeleri</text></g>
<g id="t65"><path d="M421 1586.6H434"/><text x="436" y="1598.1">Ornithogalum_candicans</text></g>
<g id="t66"><path d="M421 1611.1H434"/><text x="436" y="1622.6">Allium_sativum</text></g>
<g id="t67"><path d="M421 1635.7H434"/><text x="436" y="1647.2">Allium_cepa</text></g>
<g id="t68"><path d="M421 1660.3H434"/><text x="436" y="1671.8">Allium_brevistylum</text></g>
<g id="t69"><path d="M421 1684.8H434"/><text x="436" y="1696.3">Allium_sp</text></g>
<g id="t70"><path d="M421 1709.4H434"/><text x="436" y="1720.9">Aloe_vera</text></g>
<g id="t71"><path d="M421 1734H434"/><text x="436" y="1745.5">Aloe_arborescens</text></g>
<g id="t72"><path d="M421 1758.6H434"/><text x="436" y="1770.1">Iris_germanica</text></g>
<g id="t73"><path d="M421 1783.1H434"/><text x="436" y="1794.6">Iris_sp</text></g>
<g id="t74"><path d="M421 1807.7H434"/><text x="436" y="1819.2">Erythronium_albidum</text></g>
<g id="t75"><path d="M421 1832.3H434"/><text x="436" y="1843.8">Sabal_palmetto</text></g>
<g id="t76"><path d="M421 1856.8H434"/><text x="436" y="1868.3">Cupressus_gigantea</text></g>
<g id="t77"><path d="M421 1881.4H434"/><text x="436" y="1892.9">Picea_glauca</text></g>
<g id="t78"><path d="M421 1906H434"/><text x="436" y="1917.5">Ginkgo_biloba</text></g>
</g>
</svg>
